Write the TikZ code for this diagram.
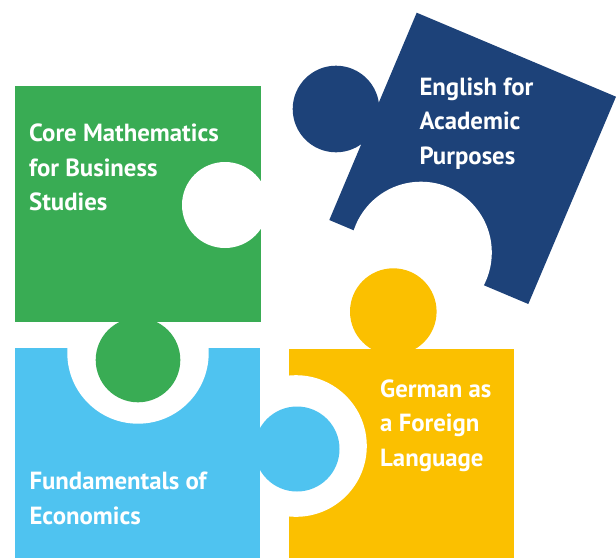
\documentclass[tikz,border=0pt]{standalone}
\usepackage{fontspec}
\setmainfont{PT Sans}
\definecolor{green500}{HTML}{39AC54}
\definecolor{blue300}{HTML}{4FC3F0}
\definecolor{yellow500}{HTML}{FBC000}
\definecolor{navy700}{HTML}{1D4279}
\tikzstyle{piecetext}=[anchor=base west, inner sep=0pt, align=left, text=white, font=\fontsize{24.8}{34.4}\selectfont\bfseries]

\begin{document}
\begin{tikzpicture}[x=1pt, y=-1pt]
			\useasboundingbox (0,0) rectangle (616,558);
			\fill[navy700] (416.7,12.7) -- (616,96.7) -- (528.3,304) -- (329.3,220) -- cycle;
			\fill[navy700] (336,109) circle (43.3pt);
			\fill[white] (421,252.5) circle (70.8pt);
			\fill[yellow500] (289.3,349) rectangle (514.3,558);
			\fill[yellow500] (393.3,311.6) circle (43.3pt);
			\fill[white] (296,446) circle (70.8pt);
			\fill[blue300] (15,348) rectangle (260,558);
			\fill[blue300] (297,449) circle (42.5pt);
			\fill[white] (138,353) circle (70.7pt);
			\fill[green500] (15,86) rectangle (261,322);
			\fill[green500] (138,360) circle (42.3pt);
			\fill[white] (225,205) circle (43pt);
			\node[piecetext] (math) at (29,210.5) {Core Mathematics\\for Business\\Studies};
			\node[piecetext] (econ) at (29.3,524.3) {Fundamentals of\\Economics};
			\node[piecetext] (german) at (380,466) {German as\\a Foreign\\Language};
			\node[piecetext] (english) at (419.3,164.3) {English for\\Academic\\Purposes};
		\end{tikzpicture}
\end{document}
